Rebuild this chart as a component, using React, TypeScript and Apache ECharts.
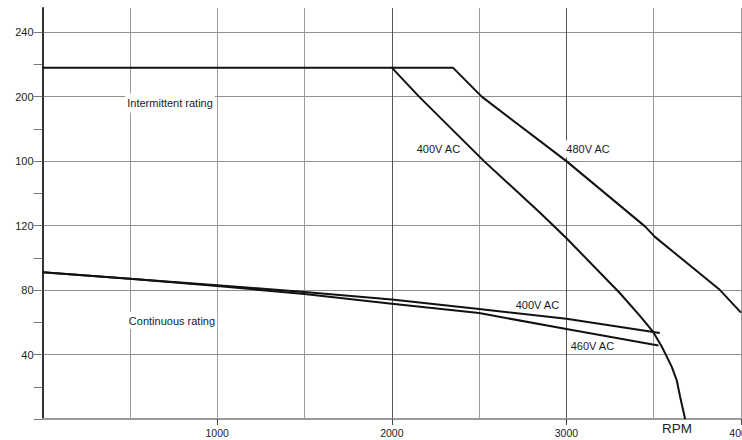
import React, { useEffect, useRef } from "react";
import * as echarts from "echarts";

// ---- data ----
const yTickValues = [40, 80, 120, 160, 200, 240];
const yTickLabels = ["40", "80", "120", "100", "200", "240"];
const yMinorTickValues = [0, 20, 40, 60, 80, 100, 120, 140, 160, 180, 200, 220, 240];
const xTickValues = [1000, 2000, 3000, 4000];
const xTickLabels = ["1000", "2000", "3000", "4000"];

// [rpm, value]
const intermittent480 = [
  [0, 218], [2350, 218], [2515, 200], [3000, 160], [3450, 119.5], [3507, 113], [3880, 80], [4000, 66],
];
const intermittent400 = [
  [2000, 218], [2156, 200], [2528, 160], [2849, 128], [3002, 112], [3307, 78], [3421, 64],
  [3497, 54], [3546, 45], [3603, 32.5], [3632, 24], [3651, 14], [3680, 0],
];
const continuous400 = [
  [0, 91], [500, 87], [1000, 83], [1500, 78.8], [2000, 74.2], [2500, 68.2], [3000, 62.2], [3535, 53.3],
];
const continuous460 = [
  [0, 91], [500, 87], [1000, 82.5], [1500, 77.5], [2000, 71.5], [2500, 65.7], [3000, 55.8], [3527, 45.6],
];

const annotationTexts = [
  "Intermittent rating", "Continuous rating", "400V AC", "480V AC", "400V AC", "460V AC",
];
const axisUnit = "RPM";

const FONT = "'Liberation Sans', Arial, sans-serif";

export default function App() {
  const ref = useRef<HTMLDivElement>(null);

  useEffect(() => {
    if (!ref.current) return;
    const chart = echarts.init(ref.current, undefined, { renderer: "svg" });

    const lineStyle = { color: "#111", width: 2 };
    const noteLabel = (text: string, extra: any = {}) => ({
      show: true,
      position: "inside",
      formatter: text,
      color: "#1a1a1a",
      fontSize: 11,
      fontFamily: FONT,
      ...extra,
    });
    const hidden = { color: "rgba(0,0,0,0)" };

    const option: any = {
      animation: false,
      backgroundColor: "#ffffff",
      grid: { left: 42.6, right: 1, top: 8, bottom: 21, containLabel: false, outerBoundsMode: "none" },
      xAxis: [
        {
          type: "value",
          position: "bottom",
          min: 0,
          max: 4000,
          interval: 500,
          axisLine: { show: true, onZero: false, lineStyle: { color: "#9a9a9a", width: 2 } },
          axisTick: { show: false },
          axisLabel: { show: false },
          splitLine: { show: true, lineStyle: { color: "#9a9a9a", width: 1 } },
        },
        {
          type: "value",
          position: "bottom",
          min: 0,
          max: 4000,
          interval: 1000,
          axisLine: { show: false, onZero: false },
          axisTick: { show: true, length: 6, lineStyle: { color: "#444", width: 1 }, customValues: xTickValues },
          axisLabel: {
            show: true,
            customValues: xTickValues,
            margin: 8,
            fontSize: 10.5,
            fontFamily: FONT,
            color: "#222",
            formatter: (v: number) => {
              const i = xTickValues.indexOf(v);
              return i >= 0 ? xTickLabels[i] : "";
            },
          },
          splitLine: { show: true, showMinLine: false, showMaxLine: false, lineStyle: { color: "#555", width: 1 } },
        },
      ],
      yAxis: [
        {
          type: "value",
          position: "left",
          min: 0,
          max: 255,
          interval: 40,
          axisLine: { show: true, onZero: false, lineStyle: { color: "#333", width: 2 } },
          axisTick: { show: false },
          axisLabel: {
            show: true,
            customValues: yTickValues,
            margin: 9,
            fontSize: 11,
            fontFamily: FONT,
            color: "#222",
            formatter: (v: number) => {
              const i = yTickValues.indexOf(v);
              return i >= 0 ? yTickLabels[i] : "";
            },
          },
          splitLine: { show: true, showMaxLine: false, lineStyle: { color: "#8f8f8f", width: 1 } },
        },
        {
          type: "value",
          position: "left",
          min: 0,
          max: 255,
          interval: 20,
          axisLine: { show: false, onZero: false },
          axisTick: { show: true, length: 9, customValues: yMinorTickValues, lineStyle: { color: "#777", width: 1 } },
          axisLabel: { show: false },
          splitLine: { show: false },
        },
      ],
      series: [
        {
          name: "Intermittent 480V AC",
          type: "line",
          xAxisIndex: 0,
          yAxisIndex: 0,
          data: intermittent480,
          showSymbol: false,
          symbol: "none",
          lineStyle,
          silent: true,
          markPoint: {
            silent: true,
            symbol: "circle",
            symbolSize: 1,
            itemStyle: hidden,
            data: [
              { coord: [730, 196], label: noteLabel(annotationTexts[0], { backgroundColor: "#fff", padding: [4, 2, 4, 2] }) },
              { coord: [3124, 167.6], label: noteLabel(annotationTexts[3], { backgroundColor: "#fff", padding: [3, 2, 3, 2] }) },
            ],
          },
        },
        {
          name: "Intermittent 400V AC",
          type: "line",
          xAxisIndex: 0,
          yAxisIndex: 0,
          data: intermittent400,
          showSymbol: false,
          symbol: "none",
          lineStyle,
          silent: true,
          markPoint: {
            silent: true,
            symbol: "circle",
            symbolSize: 1,
            itemStyle: hidden,
            data: [{ coord: [2267, 167.7], label: noteLabel(annotationTexts[2]) }],
          },
        },
        {
          name: "Continuous 400V AC",
          type: "line",
          xAxisIndex: 0,
          yAxisIndex: 0,
          data: continuous400,
          showSymbol: false,
          symbol: "none",
          lineStyle,
          silent: true,
          markPoint: {
            silent: true,
            symbol: "circle",
            symbolSize: 1,
            itemStyle: hidden,
            data: [
              { coord: [741, 61.1], label: noteLabel(annotationTexts[1], { backgroundColor: "#fff", padding: [3, 2, 3, 2] }) },
              { coord: [2834, 70.5], label: noteLabel(annotationTexts[4]) },
            ],
          },
        },
        {
          name: "Continuous 460V AC",
          type: "line",
          xAxisIndex: 0,
          yAxisIndex: 0,
          data: continuous460,
          showSymbol: false,
          symbol: "none",
          lineStyle,
          silent: true,
          markPoint: {
            silent: true,
            symbol: "circle",
            symbolSize: 1,
            itemStyle: hidden,
            data: [{ coord: [3149, 45.6], label: noteLabel(annotationTexts[5]) }],
          },
        },
      ],
      graphic: [
        {
          type: "text",
          left: 662,
          top: 421,
          silent: true,
          style: { text: axisUnit, fontSize: 13.5, fontFamily: FONT, fill: "#222" },
        },
      ],
    };

    chart.setOption(option);
    return () => chart.dispose();
  }, []);

  return (
    <div
      ref={ref}
      style={{ position: "absolute", left: 0, top: 0, width: 742, height: 440, background: "#fff" }}
    />
  );
}
